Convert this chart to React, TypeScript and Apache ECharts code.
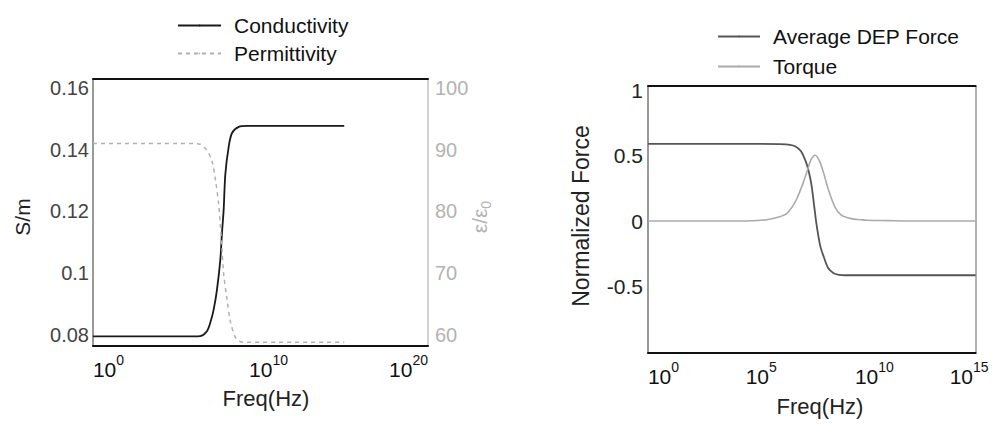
import { useEffect, useRef } from "react";
import * as echarts from "echarts";

// ---- Left panel: conductivity / permittivity vs log10(frequency)
const sigmaFreqExp = [0, 1, 2, 3, 4, 5, 6, 6.4, 6.8, 7, 7.2, 7.4, 7.6, 7.7, 7.8, 7.9, 8.1, 8.3, 8.7, 9.2, 10, 11, 12, 13, 14, 15];
const conductivity = [0.0795, 0.0795, 0.0795, 0.0795, 0.0795, 0.0795, 0.0795, 0.0796, 0.0812, 0.0839, 0.0881, 0.0946, 0.1043, 0.113, 0.1205, 0.132, 0.1409, 0.1454, 0.1474, 0.1477, 0.1477, 0.1477, 0.1477, 0.1477, 0.1477, 0.1477];
const epsFreqExp = [0, 1, 2, 3, 4, 5, 6, 6.4, 6.8, 7.1, 7.3, 7.5, 7.6, 7.7, 7.8, 8, 8.2, 8.5, 8.8, 9.2, 10, 11, 12, 13, 14, 15];
const permittivity = [91, 91, 91, 91, 91, 91, 91, 90.9, 89.9, 88.2, 85.3, 81.2, 77.9, 73.9, 69.9, 65.8, 62.2, 59.6, 58.9, 58.8, 58.8, 58.8, 58.8, 58.8, 58.8, 58.8];
const sigmaTicks = [0.08, 0.1, 0.12, 0.14, 0.16];
const epsTicks = [60, 70, 80, 90, 100];

// ---- Right panel: normalized DEP force / torque vs log10(frequency)
const depFreqExp = [0, 1, 2, 3, 4, 5, 6, 6.5, 6.75, 7, 7.25, 7.4, 7.5, 7.6, 7.7, 7.8, 7.9, 8.05, 8.25, 8.5, 8.75, 9, 10, 11, 12, 13, 14, 15];
const depForce = [0.59, 0.59, 0.59, 0.59, 0.59, 0.59, 0.588, 0.583, 0.57, 0.535, 0.443, 0.35, 0.26, 0.128, -0.007, -0.114, -0.2, -0.275, -0.36, -0.4, -0.412, -0.415, -0.415, -0.415, -0.415, -0.415, -0.415, -0.415];
const torqueFreqExp = [0, 1, 2, 3, 4, 5, 5.5, 5.9, 6.35, 6.65, 6.85, 7.1, 7.3, 7.45, 7.65, 7.85, 8.05, 8.25, 8.55, 8.85, 9.3, 9.75, 10, 11, 12, 13, 14, 15];
const torque = [0, 0, 0, 0, 0, 0.004, 0.012, 0.026, 0.057, 0.12, 0.184, 0.29, 0.388, 0.464, 0.503, 0.46, 0.363, 0.245, 0.11, 0.045, 0.018, 0.01, 0.006, 0.003, 0, 0, 0, 0];
const forceTicks = [-0.5, 0, 0.5, 1];

const FONT = "'Liberation Sans', Arial, sans-serif";

const pair = (xs: number[], ys: number[]) => xs.map((x, i) => [x, ys[i]]);

const supRich = {
  b: { fontSize: 21, lineHeight: 27, verticalAlign: "bottom", color: "#111", fontFamily: FONT },
  s: { fontSize: 14, verticalAlign: "top", color: "#111", fontFamily: FONT },
  l: { width: 31, fontSize: 14 },
  m1: { width: 8, fontSize: 14 },
  m2: { width: 16, fontSize: 14 },
  r: { width: 39, fontSize: 14 },
  r2: { width: 13, fontSize: 14 },
};
const NB = "\u00a0";

export default function App() {
  const ref = useRef<HTMLDivElement>(null);
  useEffect(() => {
    if (!ref.current) return;
    const chart = echarts.init(ref.current, null, { renderer: "svg" });
    const leftGrid = { left: 93, right: 572, top: 79, bottom: 78 };
    const rightGrid = { left: 648, right: 16, top: 86, bottom: 71 };
    const sigmaMin = 0.0764, sigmaMax = 0.1629;
    const epsMin = 58.2, epsMax = 101.46;
    const fMin = -1.01, fMax = 1.033;

    const line = (color: string, width: number) => ({ show: true, onZero: false, lineStyle: { color, width } });

    const option: any = {
      animation: false,
      backgroundColor: "#fff",
      textStyle: { fontFamily: FONT },
      grid: [leftGrid, rightGrid],
      legend: [
        {
          orient: "vertical",
          left: 172,
          top: 10,
          itemWidth: 43,
          itemHeight: 2,
          itemGap: 7,
          data: ["Conductivity", "Permittivity"],
          textStyle: { fontSize: 21, color: "#111", fontFamily: FONT, padding: [0, 0, 0, 8] },
        },
        {
          orient: "vertical",
          left: 712,
          top: 21,
          itemWidth: 42,
          itemHeight: 2,
          itemGap: 9,
          data: ["Average DEP Force", "Torque"],
          textStyle: { fontSize: 21, color: "#111", fontFamily: FONT, padding: [0, 0, 0, 8] },
        },
      ],
      xAxis: [
        {
          gridIndex: 0, type: "value", position: "bottom", min: 0, max: 20, interval: 10,
          axisLine: line("#111", 2),
          axisTick: { show: false }, splitLine: { show: false },
          axisLabel: {
            margin: 7,
            formatter: (v: number) =>
              v === 0 ? `{l|${NB}}{b|10}{s|0}` : v === 20 ? `{b|10}{s|20}{r|${NB}}` : `{m2|${NB}}{b|10}{s|${v}}`,
            rich: supRich,
          },
        },
        {
          gridIndex: 0, type: "value", position: "top", min: 0, max: 20,
          axisLine: line("#111", 2),
          axisTick: { show: false }, splitLine: { show: false }, axisLabel: { show: false },
        },
        {
          gridIndex: 1, type: "value", position: "bottom", min: 0, max: 15, interval: 5,
          axisLine: line("#111", 2),
          axisTick: { show: false }, splitLine: { show: false },
          axisLabel: {
            margin: 7,
            formatter: (v: number) =>
              v === 0
                ? `{l|${NB}}{b|10}{s|0}`
                : v === 15
                ? `{b|10}{s|15}{r2|${NB}}`
                : v === 5
                ? `{m1|${NB}}{b|10}{s|5}`
                : `{m2|${NB}}{b|10}{s|${v}}`,
            rich: supRich,
          },
        },
        {
          gridIndex: 1, type: "value", position: "top", min: 0, max: 15,
          axisLine: line("#111", 2),
          axisTick: { show: false }, splitLine: { show: false }, axisLabel: { show: false },
        },
      ],
      yAxis: [
        {
          gridIndex: 0, type: "value", position: "left", min: sigmaMin, max: sigmaMax,
          axisLine: line("#777", 1.5),
          axisTick: { show: false }, splitLine: { show: false },
          axisLabel: {
            customValues: sigmaTicks, margin: 4, fontSize: 20, color: "#444", fontFamily: FONT,
            formatter: (v: number) => String(Math.round(v * 100) / 100),
          },
        },
        {
          gridIndex: 0, type: "value", position: "right", min: epsMin, max: epsMax,
          axisLine: line("#c4c4c4", 1.5),
          axisTick: { show: false }, splitLine: { show: false },
          axisLabel: {
            customValues: epsTicks, margin: 7, fontSize: 20, color: "#b3b3b3", fontFamily: FONT,
            formatter: (v: number) => String(Math.round(v)),
          },
        },
        {
          gridIndex: 1, type: "value", position: "left", min: fMin, max: fMax,
          axisLine: line("#777", 1.5),
          axisTick: { show: false }, splitLine: { show: false },
          axisLabel: {
            customValues: forceTicks, margin: 5, fontSize: 21, color: "#222", fontFamily: FONT,
            formatter: (v: number) => String(Math.round(v * 10) / 10),
          },
        },
        {
          gridIndex: 1, type: "value", position: "right", min: fMin, max: fMax,
          axisLine: line("#999", 1.5),
          axisTick: { show: false }, splitLine: { show: false }, axisLabel: { show: false },
        },
      ],
      series: [
        {
          name: "Conductivity", type: "line", xAxisIndex: 0, yAxisIndex: 0, symbol: "none", smooth: 0.3,
          data: pair(sigmaFreqExp, conductivity),
          lineStyle: { color: "#1a1a1a", width: 1.8 }, itemStyle: { color: "#1a1a1a" },
        },
        {
          name: "Permittivity", type: "line", xAxisIndex: 0, yAxisIndex: 1, symbol: "none", smooth: 0.3,
          data: pair(epsFreqExp, permittivity),
          lineStyle: { color: "#b0b0b0", width: 1.5, type: [4, 4] }, itemStyle: { color: "#b0b0b0" },
        },
        {
          name: "Average DEP Force", type: "line", xAxisIndex: 2, yAxisIndex: 2, symbol: "none", smooth: 0.3,
          data: pair(depFreqExp, depForce),
          lineStyle: { color: "#555", width: 1.8 }, itemStyle: { color: "#555" },
        },
        {
          name: "Torque", type: "line", xAxisIndex: 2, yAxisIndex: 2, symbol: "none", smooth: 0.3,
          data: pair(torqueFreqExp, torque),
          lineStyle: { color: "#aaa", width: 1.6 }, itemStyle: { color: "#aaa" },
        },
      ],
      graphic: [
        {
          type: "text", x: 22, y: 217, rotation: Math.PI / 2,
          style: { text: "S/m", align: "center", verticalAlign: "middle", fontSize: 21, fill: "#222", fontFamily: FONT },
        },
        {
          type: "text", x: 481, y: 217, rotation: Math.PI / 2,
          style: {
            text: "{a|ε/ε}{z|0}", align: "center", verticalAlign: "middle", fill: "#b3b3b3", fontFamily: FONT,
            rich: {
              a: { fontSize: 21, fill: "#b3b3b3", fontFamily: FONT, lineHeight: 24, verticalAlign: "top" },
              z: { fontSize: 14, fill: "#b3b3b3", fontFamily: FONT, verticalAlign: "bottom" },
            },
          },
        },
        {
          type: "text", x: 266, y: 398,
          style: { text: "Freq(Hz)", align: "center", verticalAlign: "middle", fontSize: 22, fill: "#222", fontFamily: FONT },
        },
        {
          type: "text", x: 581, y: 216, rotation: Math.PI / 2,
          style: { text: "Normalized Force", align: "center", verticalAlign: "middle", fontSize: 23, fill: "#222", fontFamily: FONT },
        },
        {
          type: "text", x: 820, y: 406,
          style: { text: "Freq(Hz)", align: "center", verticalAlign: "middle", fontSize: 22, fill: "#222", fontFamily: FONT },
        },
      ],
    };
    chart.setOption(option);
    return () => chart.dispose();
  }, []);
  return (
    <div
      ref={ref}
      style={{ position: "fixed", left: 0, top: 0, width: 1000, height: 424, background: "#fff" }}
    />
  );
}
